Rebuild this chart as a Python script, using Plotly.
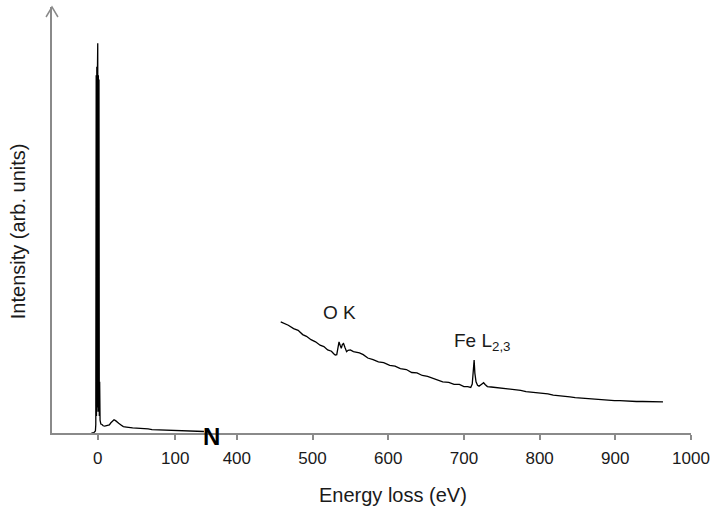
import plotly.graph_objects as go

# ---- data ----
low_E = [-8, -5, -3, -2.5, -2.0, -1.6, -1.2, -0.8, -0.4, 0.0, 0.4, 0.8, 1.2, 1.6, 2.0, 2.5, 3.0, 4, 5.5, 7, 9, 11, 13, 15,
         17, 19, 21, 23, 25, 27, 30, 33, 37, 41, 45, 50, 55, 60, 65, 70, 76, 82, 90, 99, 108, 116, 124, 131, 137]
low_I = [0, 0.1, 0.5, 2, 84, 4, 86, 5, 85, 91.5, 6, 84, 5, 83, 4, 12, 3.0, 2.1, 2.0, 1.7, 1.6, 1.7, 1.8, 1.9,
         2.4, 2.8, 3.1, 2.9, 2.5, 2.3, 1.9, 1.5, 1.4, 1.25, 1.2, 1.15, 1.1, 1.1, 0.95, 0.8, 0.75, 0.7, 0.6, 0.55, 0.5, 0.48,
         0.45, 0.4, 0.35]

high_E = [458, 463, 468, 475, 481, 487, 492, 498, 504, 510, 515, 520, 525, 528, 530, 532, 533.5, 535, 536.5, 538,
          539.5, 541, 543, 545, 547, 550, 554, 558, 562, 567, 573, 580, 587, 594, 602, 609, 616, 624, 631, 638,
          645, 652, 659, 665, 672, 680, 687, 694, 700, 705, 709, 711, 712.5, 713.5, 714.5, 716, 718, 720, 723, 726,
          728, 731, 736, 742, 748, 753, 760, 768, 775, 782, 790, 797, 804, 811, 818, 825, 832, 840, 847, 855,
          862, 870, 877, 884, 892, 899, 906, 914, 921, 928, 936, 943, 950, 957, 963]
high_I = [26.1, 25.7, 25.3, 24.5, 24.1, 23.1, 22.7, 21.9, 21.4, 20.6, 20.3, 19.5, 19.2, 18.6, 18.3, 18.4, 20.5, 21.4, 20.6, 19.9,
          20.8, 21.0, 20.0, 19.1, 19.4, 19.5, 19.1, 19.0, 18.8, 18.4, 17.6, 17.2, 16.7, 16.5, 15.9, 15.7, 15.1, 14.9, 14.2, 14.1,
          13.5, 13.3, 12.8, 12.5, 12.0, 11.9, 11.4, 11.4, 10.9, 10.9, 10.7, 11.5, 15.5, 17.1, 14.0, 12.0, 11.2, 11.0, 11.4, 11.8,
          11.4, 10.9, 10.8, 10.7, 10.6, 10.5, 10.3, 10.1, 10.0, 9.7, 9.6, 9.5, 9.3, 9.2, 8.9, 8.8, 8.6, 8.5, 8.3, 8.2,
          8.0, 7.9, 7.8, 7.7, 7.65, 7.6, 7.6, 7.5, 7.45, 7.4, 7.4, 7.35, 7.3, 7.3, 7.3]

low_ticks = [0, 100]
high_ticks = [400, 500, 600, 700, 800, 900, 1000]
x_title = "Energy loss (eV)"
y_title = "Intensity (arb. units)"
peak_labels = [("O K", 535, 28.2), ("Fe L<sub>2,3</sub>", 724, 21.3)]

# ---- figure ----
AX = "#8a8a8a"
FONT = "Liberation Sans, Arial, sans-serif"
TXT = "#1a1a1a"

fig = go.Figure()
fig.add_trace(go.Scatter(x=low_E, y=low_I, xaxis="x", yaxis="y", mode="lines",
                         line=dict(color="black", width=1.3), showlegend=False))
fig.add_trace(go.Scatter(x=high_E, y=high_I, xaxis="x2", yaxis="y", mode="lines",
                         line=dict(color="black", width=1.3), showlegend=False))

split = 161 / 643
axis_common = dict(showline=True, linecolor=AX, linewidth=2, ticks="outside", tickcolor=AX,
                   ticklen=5, tickwidth=1.5, showgrid=False, zeroline=False, anchor="y",
                   tickfont=dict(family=FONT, size=17, color=TXT), ticklabelstandoff=4)

fig.update_layout(
    width=717, height=509,
    margin=dict(l=52, r=22, t=7, b=76),
    paper_bgcolor="white", plot_bgcolor="white",
    xaxis=dict(domain=[0, split], range=[-59, 147.4], tickmode="array", tickvals=low_ticks, **axis_common),
    xaxis2=dict(domain=[split, 1], range=[367.2, 1000], tickmode="array", tickvals=high_ticks, **axis_common),
    yaxis=dict(range=[0, 100], showline=True, linecolor=AX, linewidth=2, showticklabels=False,
               ticks="", showgrid=False, zeroline=False),
    showlegend=False,
)

# y-axis arrow head
fig.add_shape(type="path", xref="paper", yref="paper",
              path=f"M {-6/643},{(433-17)/426} L 0,1 L {6/643},{(433-17)/426}",
              line=dict(color=AX, width=1.5))

annotations = [
    dict(text=x_title, xref="paper", yref="paper", x=(395 - 52) / 643, y=(433 - 495) / 426,
         showarrow=False, font=dict(family=FONT, size=20, color=TXT), xanchor="center", yanchor="middle"),
    dict(text=y_title, xref="paper", yref="paper", x=(18 - 52) / 643, y=(433 - 231) / 426,
         showarrow=False, textangle=-90, font=dict(family=FONT, size=20, color=TXT),
         xanchor="center", yanchor="middle"),
    dict(text="<b>N</b>", xref="paper", yref="paper", x=split, y=(433 - 436) / 426,
         showarrow=False, font=dict(family="Liberation Sans Narrow, Arial Narrow, sans-serif", size=24, color="black"),
         xanchor="center", yanchor="middle"),
]
for txt, ex, ey in peak_labels:
    annotations.append(dict(text=txt, xref="x2", yref="y", x=ex, y=ey, showarrow=False,
                            font=dict(family=FONT, size=19, color=TXT), xanchor="center", yanchor="middle"))
fig.update_layout(annotations=annotations)

fig.write_html("out.html")
